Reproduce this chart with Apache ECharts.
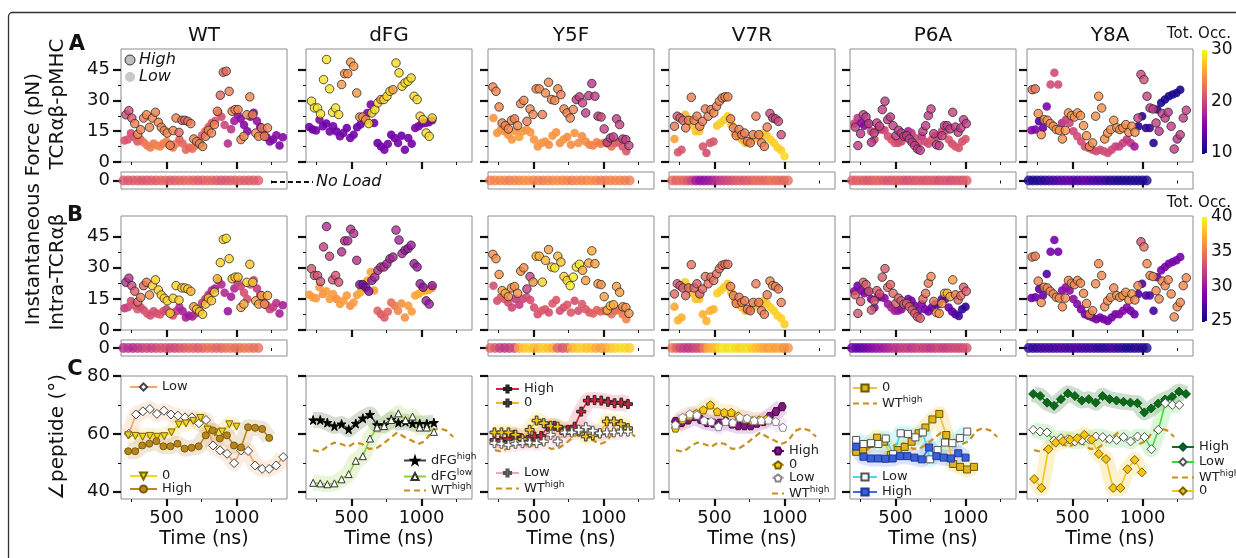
<!DOCTYPE html>
<html>
<head>
    <meta charset="utf-8" />
    <title>Force and angle panels</title>
    <script src="https://cdn.jsdelivr.net/npm/echarts@6/dist/echarts.min.js"></script>
    <style>
        html, body { margin: 0; padding: 0; background: #fff; }
        #main { width: 1236px; height: 558px; }
    </style>
</head>
<body>
    <div id="main"></div>
    <script>
        // ---------- data : instantaneous force (pN), rows A and B share positions ----------
        var panelNames = ['WT', 'dFG', 'Y5F', 'V7R', 'P6A', 'Y8A'];

        // WT
        var wtHiT = [210, 1221];
        var wtHi = [23,25,21.4,18.7,13.5,15.7,21.4,23,16.9,21.4, 24.2,19.3,16.9,15.3,14.1,8.1,15.3,21.4,14.4,20.3, 20.3,19.8,18.7,11.2,10,8.9,7.6,12.5,15.4,14.1, 18.2,24.7,32.5,43.7,44.2,34.4,24.7,25.5,25.5,10.9, 12.5,23,31.7,23,14.1,12.5,16.6,12.5,16.6];
        var wtHiA = [20,20.5,21,23.5,24,23.8,23.5,24,23.8,24, 23.5,24,23.8,24,24,23.5,24,23.8,22,22, 22,22.5,23.5,24,24,23.8,24,23.5,24,23.8, 24,23.8,22,22.5,22.5,23.5,24,23.8,24,24, 23.8,24,24,23.8,24,24,23.5,24,23.8];
        var wtHiB = [31,31,32.5,33.5,34,35,34,35,36,38.5, 38.5,38.5,38.5,38.5,38.5,38.5,38.5,38.5,38.5,38.5, 38.5,38.5,37.5,36,38,38,38.5,38.5,38,38, 38.5,38.5,38.5,39,39,38.5,38,38,38,37, 37,38.5,38,38.5,36.5,36.5,37,36,37];
        var wtLoT = [200, 1330];
        var wtLo = [10.5,11,14,12,10,11,9.5,8,7,9, 8,7.5,9,10,8.5,7,9,11,9,6, 7,6.5,8,10,13,15,17,19,20,24, 22,18,9,16,20,23,21,18,15,22, 24,20,17,14,12,10,11,13,8,12];
        var wtLoA = [21,21,20.5,21,21.5,22,23,23.5,23.5,23.5, 24,24,23.5,24,24,23.5,23.5,22,22,22.5, 22,22.5,23,22,21.5,22,22,21,21,21, 20.5,20,18.5,19,17,16.5,16,15.5,15.5,16, 16,16.5,15.5,16,16,15.5,15,15.5,15,15.5];
        var wtLoB = [32,32.5,33,33,33.5,33,33,33.5,33,33, 33,33.5,33,32.5,33,33,32,31,30.5,30.5, 30,30.5,31,31.5,32,32,31.5,31,30.5,30.5, 31,31,30,30.5,31,32,32.5,33,33,33, 32.5,32,32,32.5,33,32.5,32,31.5,30.5,30.5];

        // dFG
        var dfgHiT = [214, 1076];
        var dfgHi = [29.6,26.3,26.3,23.4,40.1,49.9,35.6,24.2,26.3,23.1, 37.7,43,43,48.6,46.6,33.6,21.9,21.9,20.6,18.7, 23.9,25.5,28.8,30.4,30.4,32,34.4,35.2,48.2,43.4, 36.9,38.5,39.3,40.9,32,30.4,22.3,20.6,14.1,12.5, 21.4];
        var dfgHiA = [29,29,29,29,29,29,29,29,29,28.5, 25,24.5,24.5,25,25,25,24.5,24.5,24.5,28.5, 28.5,28.5,28.5,25,28.5,28.5,28.5,25,28.5,28.5, 28.5,28.5,28.5,28.5,28.5,28.5,28,28,28.5,28.5, 28.5];
        var dfgHiB = [33,33,33,33,32,31,32,33,33,33, 31,31,31,31.5,31,31,29,28.5,28.5,29, 30,30.5,31,31,31,30.5,30.5,30.5,31,30.5, 30.5,30,30,30,30,30,30,29.5,30,30, 29.5];
        var dfgLoT = [198, 1076];
        var dfgLo = [17,15.8,15.3,20.6,17.4,18.7,14.9,17.4,14.9,12.5, 14.1,16.6,11.7,13.3,16.9,18.2,20.6,23.9,28,19, 9.3,7.6,6,8.8,13.3,11.7,9.3,12.8,6,11.7, 8.9,16.6,17.4,18.7,19,19.3,20.3];
        var dfgLoA = [14.5,14,14.5,15,14.5,14,14.5,14.5,14,14.5, 14.5,14,14.5,14.5,14,14.5,15,15,15,14.5, 14,14,14.5,14.5,14,14.5,14.5,14,14.5,14.5, 14.5,15,15,14.5,15,15,15];
        var dfgLoB = [36.5,36.5,36.5,36.5,36,36.5,36.5,36.5,36,36.5, 36.5,36.5,36,36.5,36.5,37,37,37,37,36.5, 34,33.5,33.5,34,34.5,35,35.5,36,36,36.5, 36.5,37,37,37.5,37.5,37,37];

        // Y5F
        var y5fHiT = [210, 1181];
        var y5fHi = [36.5,34.4,26.8,19,17.7,16.1,20.3,21,17.7,28.4, 30,19.8,25.8,23.1,35.6,35.6,23.1,33.6,38.8,30.4, 30,35.6,32.8,25.8,23.9,21.4,25.5,30.4,31.7,28.8, 23.9,32.3,38.2,32,22.3,21.9,16.1,9.6,11.7,12.2, 21,18.2,11.2,10.9,8];
        var y5fHiA = [24,24,24,23.5,24,24,24,23.5,24,24, 24,23.5,24,24,24,24,23.5,24,24,24, 24,24,23.5,24,24,24,24,19,19,19.5, 19,19,18.5,19,19,20,19.5,19,19,19, 19,19.5,19,19,19.5];
        var y5fHiB = [36,36,36,36.5,37,36,36,36,36,36, 36,32,32,36,37.5,37.5,38.5,37.5,36.5,38.5, 39.5,37.5,38,38.5,38.5,39.5,39.5,39,39.5,37, 36.5,37,37,36.5,36.5,36,36.5,37.5,38,37, 36.5,36.5,36,36,36];
        var y5fLoT = [214, 1162];
        var y5fLo = [21.4,14.1,15.8,15,13.3,10.9,15,12.2,15,15.8, 14.5,10.9,7.6,9.3,10,8.4,12.8,14.5,9.3,10.9, 12.2,8.4,14.1,9.3,12.5,10,8.4,8,9.6,8.9, 9.3,8.9,7.6,9.3,9.6,7.6,5.2];
        var y5fLoA = [25,25,25,25,25,25,25,25.5,25,25, 25,25,25,25,25,24.5,25,25,24.5,25, 24.5,24.5,25,24.5,24.5,24.5,24,24,24,23.5, 23.5,23,23,22,21.5,21,21];
        var y5fLoB = [33,33,33.5,33.5,33,32.5,32,32,32.5,33, 33,33,33,33.5,33.5,33,33.5,33.5,33,33, 33.5,33.5,33,33,33.5,33.5,33.5,34,34,34, 34,34,34.5,34.5,34.5,35,35.5];

        // V7R
        var v7rHiT = [214, 976];
        var v7rHi = [17.4,22.3,21.4,20.3,16.6,20.3,31.5,20.3,22.3,17.4, 19.8,25.8,22.3,25.5,23.9,27.1,29.6,31.2,31.7,31.7, 21,16.6,12.8,15.8,13.3,14.1,10,9.3,13.3,22.3, 13.3,9.3,7.6,17,23.6,21.4,21,19.8,13.3];
        var v7rHiA = [23,21,21.5,22,23.5,23.5,23.5,23.5,23.5,23.5, 23.5,23.5,23.5,23.5,24,23.5,24,24,24,24, 23.5,23.5,23.5,23.5,23.5,23.5,23.5,23.5,23.5,23.5, 23.5,23.5,23.5,23.5,20,19.5,19.5,20,20];
        var v7rHiB = [34,33.5,33,33.5,34,34,34.5,34,33.5,33.5, 34,34.5,34.5,34.5,34.5,34.5,34.5,34.5,34.5,34.5, 35,35,35,35,35,35,34.5,34.5,35,35, 35,35,35,35,35.5,35.5,35.5,35,35];
        var v7rLoT = [214, 1000];
        var v7rLo = [11.2,4.7,6,23,20.6,18,15,15,7.6,4.4, 9.3,10,17.7,19,20.6,22.3,18.2,14,12.5,11, 9.3,10,11,12,12.5,14,12.8,11,9.3,7, 5.7,2.8];
        var v7rLoA = [25.5,21,21,27,27.5,27.5,27.5,27.5,21,20.5, 21,21,27.5,28,28,28,27.5,27,27,26.5, 26.5,27,27.5,27.5,27.5,27.5,27.5,28,28,28, 28,28.5];
        var v7rLoB = [37,37.5,37.5,38.5,38.5,38,38,38,37.5,37.5, 37.5,37.5,38.5,38.5,38.5,38,38,38,37.5,37.5, 37.5,37.5,38,38,38,38,38,38.5,38.5,38.5, 38.5,38.5];

        // P6A
        var p6aHiT = [212, 1005];
        var p6aHi = [17,8,13.8,23,21.9,18.7,9.6,14.1,19,17.4, 25.5,29.6,20.6,21.9,17.7,12.8,15.4,14.1,12.5,12.8, 11.2,9.6,8,6.3,5.7,14.9,17.7,22.6,25.8,13.8, 8.4,8,12.8,17.7,17.7,16.1,24.2,17,14.5,16.6, 20.6,18.7];
        var p6aHiA = [19,19,18.5,19,19,19,18.5,19,19,19.5, 19,19,19,19,19,18.5,19,19,19,19, 19,18.5,19,19,19,19,19,19,19.5,19, 19,19,19,19,19,19,19.5,19,19,19, 19,19];
        var p6aHiB = [33.5,33,33.5,33.5,33.5,33,33.5,33.5,33.5,33, 33.5,33.5,34,34,34,33.5,33.5,33.5,33.5,33.5, 33.5,33.5,33.5,33.5,33.5,34,34.5,35,35.5,35, 36,36,36.5,37,37.5,37,36.5,35,34,34, 33.5,33.5];
        var p6aLoT = [205, 1000];
        var p6aLo = [18.7,21.4,19,17.7,18.7,15,10.9,15.8,15.8,15.4, 12.5,10.9,9.3,9.3,10,12.5,15,14.1,11.7,9.3, 12.5,10,8.9,10.9,12.5,12.5,15,15,10.9,8.9, 7.6,6.8,10,11.2];
        var p6aLoA = [20,19,16,15.5,17,20,20.5,20,19.5,20, 20.5,21,21,20.5,20,18,17,19,20,21, 19,20,20.5,21,20.5,20,20,21,21,20.5, 21,21,20.5,21];
        var p6aLoB = [29,28.5,29,29,28.5,29,29.5,29,29,29.5, 30,30.5,30.5,30,29.5,29,28.5,28.5,28.5,29, 29,28.5,28.5,28,28,28,27.5,27.5,28,27.5, 27,26.5,26,26];

        // Y8A
        var y8aHiT = [212, 1312];
        var y8aHi = [35.2,35.6,23.6,13.3,20.6,20.3,18.7,17.4,15.8,15.4, 11.2,15.4,23.9,22.6,21.9,23.9,22.6,17.7,12.8,7.6, 9.3,22.3,32,26.3,11.2,14.1,15.8,20.3,16.6,15.8, 16.6,18.2,14.5,17.4,14.5,21.4,42.6,40.1,32,26.3, 25.8,19,15,23.6,21.4,24.2,17.4,6.3,11.2,13.3, 21.4,25.2];
        var y8aHiA = [23,23,24.5,24.5,24.5,24.5,24.5,24.5,24.5,24.5, 24.5,24.5,24.5,24.5,24.5,24.5,24.5,24.5,24.5,24.5, 24.5,24.5,24.5,24.5,24.5,24.5,24.5,24.5,24.5,24.5, 24.5,24.5,24.5,24.5,24.5,19.5,19.5,20.5,19.5,19, 19,19,18.5,19,19,18.5,19,19,18.5,19, 19,19];
        var y8aHiB = [35,35,35.5,35.5,35.5,35.5,35.5,35.5,35.5,35.5, 35.5,35.5,35.5,35.5,35.5,35.5,35.5,35.5,35.5,35.5, 35.5,35.5,35.5,35.5,35.5,35.5,35.5,35.5,36,36, 36,36,36,36,35.5,35.5,33,34.5,35.5,35.5, 35.5,35.5,35.5,35.5,35.5,35.5,35.5,35.5,35.5,35.5, 35.5,35.5];
        var y8aLoT = [207, 1269];
        var y8aLo = [15.4,15.8,19.8,16.6,27,37.7,43.4,37.7,19,20.6, 19,15,12.5,10,7.6,6.8,6,5.2,6,5.2, 4.4,6,7.6,7.6,9.3,10.9,9.3,7.6,17.4,22.3, 16.6,16.6,9.3,25.5,28.8,30.4,32,32.8,33.6,35.2];
        var y8aLoA = [15.5,15,12.5,14,15,20.5,20.5,20.5,18,19.5, 20,20,20.5,20.5,20.5,20.5,20.5,20.5,20.5,20.5, 20.5,20,20,19.5,19.5,19,19,17,11,11, 11,11.5,11,11,10.5,10.5,10.5,10.5,10.5,10.5];
        var y8aLoB = [28,28,27.5,28,27,28.5,28.5,28.5,29,29.5, 29.5,29.5,29,28.5,28.5,28.5,28.5,28.5,28.5,28.5, 28.5,28.5,28.5,29,29,29,28.5,28,27,27, 27,27,26.5,28,28.5,28.5,28.5,28.5,28.5,28.5];

        // "No Load" strips: occupancy along the run (A scale 10-30, B scale 25-40)
        var wtStripT = [193, 1155];
        var wtStripA = [21,21,21.5,21.5,21,21,21.5,21.5,22,22, 21.5,21.5,22,22,22.5,22,21.5,21.5,22,22, 21.5,21,21,21.5,21.5,22,21.5,21.5,21.5,21.5];
        var wtStripB = [31,31.5,31,31.5,32,32.5,32,32.5,33,33, 32.5,32.5,33,33.5,34,34,33.5,34,34.5,34.5, 34,34,34.5,35,34.5,34.5,35,35,34.5,34.5];
        var y5fStripT = [191, 1186];
        var y5fStripA = [23.5,24,24,24,23.5,24,24,24.5,24.5,24, 24,23.5,24,24,24.5,24,24,23.5,24,24, 24,24.5,24,23.5,23.5,24,24,24,23.5,23.5];
        var y5fStripB = [34,33.5,32,31.5,32,32.5,37,38,38.5,38, 37.5,38.5,38,37.5,34,33,34,37.5,38,38.5, 38,38,37,36.5,37,38,38.5,39,39,38.5];
        var v7rStripT = [198, 1024];
        var v7rStripA = [22.5,22,22.5,22,21,19.5,17,16,16,16.5, 17,18,19,19.5,20,20.5,21,21.5,21,21.5, 22,22.5,22.5,22,22.5,23,22.5,22.5,22,22.5];
        var v7rStripB = [35,34,32.5,32,31.5,32,32.5,33,35,37, 37.5,38,39,39.5,39,39.5,39,38.5,39,39, 38.5,38,37.5,37,36.5,37,36.5,37,36,36];
        var p6aStripT = [190, 1008];
        var p6aStripA = [21.5,21.5,22,21.5,21,21.5,22,22,21.5,21, 21,21.5,21.5,21,20.5,21,21,21.5,21,21, 21.5,21,20.5,21,21,20.5,21,21,21,21.5];
        var p6aStripB = [28,28,27.5,28,28.5,29,29.5,30,30,30.5, 31,31.5,31.5,32,32,31.5,32,32.5,32,32, 31.5,32,32.5,32,32,32.5,32.5,32.5,32.5,33];
        var y8aStripT = [188, 1029];
        var y8aStripA = [10.5,10.5,10.5,11,11,11.5,12,12.5,13,13, 13.5,13,12.5,13,13.5,13,12.5,12,12,11.5, 11,11,10.5,10.5,10.5,10.5,11,10.5,10.5,10.5];
        var y8aStripB = [26,26,26,26.5,26.5,26.5,26.5,27,27,26.5, 26.5,27,27,26.5,26.5,26.5,26.5,26,26,26, 26.5,26.5,26,26,25.5,25.5,25.5,26,25.5,25.5];

        // ---------- data : peptide angle (deg), row C ----------
        var wtLowCT = [231, 1333];
        var wtLowC = [60,66.7,67.8,68.6,66.9,68,66.7,66.3,65.7,65.7, 63.7,64.8,56,54.3,53.1,49.9,54.3,54.1,49.1,47.9, 47.9,49.1,52];
        var wtZeroCT = [226, 1000];
        var wtZeroC = [59.5,59.3,59,59.3,59,59.2,60.5,63.2,63.6,64.5, 65.5,61.5,60.5,60.8,63.3,62.5];
        var wtHighCT = [226, 1233];
        var wtHighC = [54,54,56,56.6,57.5,55.7,55.7,56.6,54.9,55.2, 55.7,59.5,61.2,58.4,59.5,56,55.3,62.3,62.1,61.7, 58.6];
        var wtRefT = [225, 1225];
        var wtRef = [54.4,53.8,55.5,57,56.5,55.5,57,56.5,54.8,55, 56.5,58.5,60.4,59,57.8,56.5,57.5,61,62,61.2, 59];

        var dfgHighCT = [226, 1088];
        var dfgHighC = [64.8,64.8,63.9,62.7,63.4,61.6,63.6,65.4,66.7,63.1, 63.1,65,63.9,64.2,63.6,63.6,63.6,63.9];
        var dfgLowCT = [226, 1088];
        var dfgLowC = [43.1,42.9,42.6,42.9,44.3,46.1,50.7,52.3,58.4,62.2, 62.7,64.8,67.1,64.8,66,62.2,62.2,60.7];

        var y5fHighCT = [221, 1174];
        var y5fHighC = [57.9,57.7,58.2,59.7,58.5,57.9,59.1,59.3,62.5,62.8, 61.4,61.4,62.5,67.7,71.5,71.7,71.5,71.1,70.6,70.8, 70.3];
        var y5fZeroCT = [221, 1174];
        var y5fZeroC = [60.5,60.5,60.5,59.7,58.2,61.4,64.6,63.7,62.8,62.5, 61.1,60.8,60.8,59.1,59.5,60.2,64.3,64.3,63.4,62];
        var y5fLowCT = [221, 1174];
        var y5fLowC = [56.8,56.6,56.2,56.6,56.8,57,56.8,57.4,59.7,57.4, 60.5,60.5,61.4,62.3,61.1,60.2,60.5,60.5,60.8,60.8];

        var v7rHighCT = [221, 983];
        var v7rHighC = [64.3,63.9,64.8,66,65,63.9,63.7,63.7,64.3,63.4, 62.8,62.8,62.8,63.7,64.3,66,67.7,69.4];
        var v7rZeroCT = [221, 869];
        var v7rZeroC = [62,65,66.2,67.1,68.3,70,67.7,67.4,67.4,66.2, 65.1,64.6,64.8,65.1];
        var v7rLowCT = [221, 988];
        var v7rLowC = [63.1,65.7,66.9,66.5,64.6,64.3,62.5,64.3,63.9,65.7, 65.4,64.6,64.6,64.8,64.3,62.3];

        var p6aZeroCT = [219, 1060];
        var p6aZeroC = [53.8,54.6,56.5,58.7,57.3,52.7,54.4,55.5,57.3,60.2, 62.2,65,66.9,59.6,49.6,48.6,47.7,48.6];
        var p6aLowCT = [219, 1012];
        var p6aLowC = [57.9,56.5,56.8,56.5,58.4,53,60.2,60,58.8,60.5, 51.2,54.4,57,56.8,58.6,60.8];
        var p6aHighCT = [219, 1000];
        var p6aHighC = [55.6,52.1,51.5,51.5,51.4,51.5,52.3,52.3,51.8,51.2, 55.3,52.3,51.8,51.5,53.3,51.8];

        var y8aHighCT = [219, 1310];
        var y8aHighC = [73.8,73.1,70.8,69.7,72,74,73.1,71.5,72,70.8, 73.1,72,71.5,71.1,70.8,70.6,67.4,68.8,70.5,71.9, 72.8,74.6,73.8];
        var y8aLowCT = [219, 1262];
        var y8aLowC = [61.4,60.8,60.5,57.7,58.5,58.2,57.4,57.7,58.2,59.1, 58.9,58.2,57.9,58.9,57.4,59.1,58.9,54.7,61.4,70.6, 70,70];
        var y8aZeroCT = [226, 995];
        var y8aZeroC = [44.4,41.3,54.7,57,57.5,58,58.5,59.7,58,53.1, 51.3,41.3,41.3,47.8,51,46.7];

        // axis ticks
        var timeMajor = [500, 1000];
        var timeMinor = [250, 750, 1250];
        var forceMajor = [0, 15, 30, 45];
        var forceMinor = [7.5, 22.5, 37.5];
        var angleMajor = [40, 60, 80];
        var angleMinor = [50, 70];
        var occATicks = [10, 20, 30];
        var occBTicks = [25, 30, 35, 40];

        // ---------- layout ----------
        var FF = "'DejaVu Sans', sans-serif";
        var PLASMA = ['#0d0887', '#41049d', '#6a00a8', '#8f0da4', '#b12a90', '#cc4778',
            '#e16462', '#f2844b', '#fca636', '#fcce25', '#f0f921'];
        var colLeft = [121, 306, 488, 669, 850, 1027];
        var panelW = 166;
        var rowTop = [49, 172, 216, 340, 376];
        var rowH = [113, 17, 114, 16, 123];
        var yCfg = [
            { min: 0, max: 55, major: forceMajor, minor: forceMinor },
            { min: -1, max: 1, major: [0], minor: [] },
            { min: 0, max: 55, major: forceMajor, minor: forceMinor },
            { min: -1, max: 1, major: [0], minor: [] },
            { min: 37.5, max: 80, major: angleMajor, minor: angleMinor }
        ];
        function plain( v ) { return String( v ); }

        // spread a sampled series evenly over its time span
        function spread( range, ys, cs )
        {
            var n = ys.length, out = [];
            for ( var i = 0; i < n; i++ )
            {
                var t = range[0] + ( range[1] - range[0] ) * i / ( n - 1 );
                var p = [t, ys[i]];
                if ( cs ) p.push( cs[Math.min( i, cs.length - 1 )] );
                out.push( p );
            }
            return out;
        }
        function zeros( arr ) { return arr.map( function () { return 0; } ); }

        var grids = [], xAxes = [], yAxes = [];
        for ( var r = 0; r < 5; r++ )
        {
            for ( var c = 0; c < 6; c++ )
            {
                var g = r * 6 + c;
                var hidden = ( c === 1 && ( r === 1 || r === 3 ) );
                grids.push( {
                    left: colLeft[c], top: rowTop[r], width: panelW, height: rowH[r],
                    show: !hidden, borderColor: '#8c8c8c', borderWidth: 1
                } );
                var lab = r === 4;
                xAxes.push( {
                    gridIndex: g, type: 'value', min: 175, max: 1360, position: 'bottom', show: !hidden,
                    axisLine: { show: false }, splitLine: { show: false },
                    axisTick: { show: true, customValues: timeMajor, length: 7, lineStyle: { color: '#111', width: 2.2 } },
                    axisLabel: { show: lab, customValues: timeMajor, formatter: plain, color: '#111', fontSize: 18, fontFamily: FF, margin: 10 },
                    name: lab ? 'Time (ns)' : '', nameLocation: 'middle', nameGap: 31,
                    nameTextStyle: { fontSize: 19, color: '#111', fontFamily: FF }
                } );
                xAxes.push( {
                    gridIndex: g, type: 'value', min: 175, max: 1360, position: 'bottom', show: !hidden,
                    axisLine: { show: false }, splitLine: { show: false }, axisLabel: { show: false },
                    axisTick: { show: true, customValues: timeMinor, length: 3, lineStyle: { color: '#111', width: 1 } }
                } );
                var yc = yCfg[r];
                yAxes.push( {
                    gridIndex: g, type: 'value', min: yc.min, max: yc.max, position: 'left', show: !hidden,
                    axisLine: { show: false }, splitLine: { show: false },
                    axisTick: { show: true, customValues: yc.major, length: 8, lineStyle: { color: '#111', width: 2.2 } },
                    axisLabel: { show: c === 0, customValues: yc.major, formatter: plain, color: '#111', fontSize: 18, fontFamily: FF, margin: 11 }
                } );
                yAxes.push( {
                    gridIndex: g, type: 'value', min: yc.min, max: yc.max, position: 'left',
                    show: !hidden && yc.minor.length > 0,
                    axisLine: { show: false }, splitLine: { show: false }, axisLabel: { show: false },
                    axisTick: { show: true, customValues: yc.minor, length: 3, lineStyle: { color: '#111', width: 1 } }
                } );
            }
        }
        // colour bars (grids 30 and 31)
        var cbars = [
            { top: 50, h: 103, min: 10, max: 30, ticks: occATicks },
            { top: 217, h: 104, min: 25, max: 40, ticks: occBTicks }
        ];
        cbars.forEach( function ( cb, k )
        {
            grids.push( { left: 1202, top: cb.top, width: 5, height: cb.h, show: false } );
            xAxes.push( { gridIndex: 30 + k, type: 'value', show: false } );
            xAxes.push( { gridIndex: 30 + k, type: 'value', show: false } );
            yAxes.push( {
                gridIndex: 30 + k, type: 'value', min: cb.min, max: cb.max, position: 'right',
                axisLine: { show: false }, splitLine: { show: false },
                axisTick: { show: true, customValues: cb.ticks, length: 3, lineStyle: { color: '#111', width: 1 } },
                axisLabel: { customValues: cb.ticks, color: '#111', fontSize: 17, fontFamily: FF, margin: 4 }
            } );
            yAxes.push( { gridIndex: 30 + k, type: 'value', show: false } );
        } );

        // ---------- series ----------
        var series = [], idxA = [], idxB = [];
        var scatterCols = [
            { hi: wtHi, hiT: wtHiT, hiA: wtHiA, hiB: wtHiB, lo: wtLo, loT: wtLoT, loA: wtLoA, loB: wtLoB },
            { hi: dfgHi, hiT: dfgHiT, hiA: dfgHiA, hiB: dfgHiB, lo: dfgLo, loT: dfgLoT, loA: dfgLoA, loB: dfgLoB },
            { hi: y5fHi, hiT: y5fHiT, hiA: y5fHiA, hiB: y5fHiB, lo: y5fLo, loT: y5fLoT, loA: y5fLoA, loB: y5fLoB },
            { hi: v7rHi, hiT: v7rHiT, hiA: v7rHiA, hiB: v7rHiB, lo: v7rLo, loT: v7rLoT, loA: v7rLoA, loB: v7rLoB },
            { hi: p6aHi, hiT: p6aHiT, hiA: p6aHiA, hiB: p6aHiB, lo: p6aLo, loT: p6aLoT, loA: p6aLoA, loB: p6aLoB },
            { hi: y8aHi, hiT: y8aHiT, hiA: y8aHiA, hiB: y8aHiB, lo: y8aLo, loT: y8aLoT, loA: y8aLoA, loB: y8aLoB }
        ];
        scatterCols.forEach( function ( d, c )
        {
            [0, 2].forEach( function ( r )
            {
                var g = r * 6 + c, useA = r === 0;
                var list = useA ? idxA : idxB;
                list.push( series.length );
                series.push( {
                    type: 'scatter', xAxisIndex: 2 * g, yAxisIndex: 2 * g, z: 2,
                    symbolSize: 8.5, itemStyle: { opacity: 0.9 },
                    data: spread( d.loT, d.lo, useA ? d.loA : d.loB )
                } );
                list.push( series.length );
                series.push( {
                    type: 'scatter', xAxisIndex: 2 * g, yAxisIndex: 2 * g, z: 3,
                    symbolSize: 8.5, itemStyle: { borderColor: '#2a2a2a', borderWidth: 1 },
                    data: spread( d.hiT, d.hi, useA ? d.hiA : d.hiB )
                } );
            } );
        } );
        var stripCols = [
            { c: 0, t: wtStripT, a: wtStripA, b: wtStripB },
            { c: 2, t: y5fStripT, a: y5fStripA, b: y5fStripB },
            { c: 3, t: v7rStripT, a: v7rStripA, b: v7rStripB },
            { c: 4, t: p6aStripT, a: p6aStripA, b: p6aStripB },
            { c: 5, t: y8aStripT, a: y8aStripA, b: y8aStripB }
        ];
        stripCols.forEach( function ( s )
        {
            [[1, s.a, idxA], [3, s.b, idxB]].forEach( function ( q )
            {
                var g = q[0] * 6 + s.c;
                q[2].push( series.length );
                series.push( {
                    type: 'scatter', xAxisIndex: 2 * g, yAxisIndex: 2 * g, symbolSize: 10,
                    data: spread( s.t, zeros( q[1] ), q[1] )
                } );
            } );
        } );

        var PLUS = 'path://M3.5,0H6.5V3.5H10V6.5H6.5V10H3.5V6.5H0V3.5H3.5Z';
        var STAR = 'path://M50,0L61,35L98,35L68,57L79,91L50,70L21,91L32,57L2,35L39,35Z';
        var PENT = 'path://M50,0L98,35L79,91L21,91L2,35Z';
        var HEX = 'path://M25,0L75,0L100,50L75,100L25,100L0,50Z';

        // row C series: [column, legend key, values, span, line colour, band colour, symbol, size, fill, edge, rotate]
        var angleSeries = [
            [0, 'Low', wtLowC, wtLowCT, '#f6a56b', '#f8b888', 'diamond', 9, '#ffffff', '#444', 0],
            [0, '0', wtZeroC, wtZeroCT, '#f7d417', '#f1d060', 'triangle', 7, '#f3d21c', '#7a6400', 180],
            [0, 'High', wtHighC, wtHighCT, '#b8861b', '#c0a060', 'circle', 7, '#b8861b', '#7a5a10', 0],
            [1, 'dFG^high', dfgHighC, dfgHighCT, '#33472a', '#5c7a4c', STAR, 9, '#000000', '#000', 0],
            [1, 'dFG^low', dfgLowC, dfgLowCT, '#8ccf3a', '#a6d860', 'triangle', 7, '#ffffff', '#333', 0],
            [2, 'High', y5fHighC, y5fHighCT, '#d81f3c', '#ec6a80', PLUS, 9, '#d81f3c', '#222', 0],
            [2, '0', y5fZeroC, y5fZeroCT, '#f0b820', '#f7d440', PLUS, 9, '#f5c518', '#333', 0],
            [2, 'Low', y5fLowC, y5fLowCT, '#f5a3b5', '#f5b0c0', PLUS, 9, '#ffffff', '#555', 0],
            [3, 'High', v7rHighC, v7rHighCT, '#800080', '#a860b8', HEX, 8, '#7b1a7b', '#4a004a', 0],
            [3, '0', v7rZeroC, v7rZeroCT, '#f0a800', '#f5c840', PENT, 8, '#f5c518', '#7a6000', 0],
            [3, 'Low', v7rLowC, v7rLowCT, '#e9a9e9', '#e0b0e8', PENT, 8, '#ffffff', '#888', 0],
            [4, '0', p6aZeroC, p6aZeroCT, '#f0c040', '#f0c840', 'rect', 7, '#e3b31c', '#6a5a00', 0],
            [4, 'Low', p6aLowC, p6aLowCT, '#3de0e8', '#60e0f0', 'rect', 7, '#ffffff', '#555', 0],
            [4, 'High', p6aHighC, p6aHighCT, '#4169e1', '#7c94ea', 'rect', 7, '#3a60d8', '#1c3a9a', 0],
            [5, 'High', y8aHighC, y8aHighCT, '#1a6b1a', '#3f7f3f', 'diamond', 9, '#0d6b0d', '#053', 0],
            [5, 'Low', y8aLowC, y8aLowCT, '#35e035', '#70e070', 'diamond', 9, '#ffffff', '#555', 0],
            [5, '0', y8aZeroC, y8aZeroCT, '#f5c518', '#f5d040', 'diamond', 9, '#f5c518', '#806000', 0]
        ];
        var rowC = 4;
        // noisy-trace bands first
        angleSeries.forEach( function ( s )
        {
            var g = rowC * 6 + s[0];
            series.push( {
                type: 'line', xAxisIndex: 2 * g, yAxisIndex: 2 * g, z: 1, silent: true,
                showSymbol: false, symbol: 'none',
                lineStyle: { color: s[5], width: 16, opacity: 0.26, join: 'round' },
                data: spread( s[3], s[2] )
            } );
        } );
        // WT high reference, dashed
        for ( var c = 1; c < 6; c++ )
        {
            var g = rowC * 6 + c;
            series.push( {
                name: 'c' + c + ':WT^high', type: 'line', xAxisIndex: 2 * g, yAxisIndex: 2 * g, z: 2,
                symbol: 'none', itemStyle: { color: '#c8901e' },
                lineStyle: { color: '#c8901e', width: 2.2, type: [6, 4] },
                data: spread( wtRefT, wtRef )
            } );
        }
        angleSeries.forEach( function ( s )
        {
            var g = rowC * 6 + s[0];
            series.push( {
                name: 'c' + s[0] + ':' + s[1], type: 'line', xAxisIndex: 2 * g, yAxisIndex: 2 * g, z: 3,
                symbol: s[6], symbolSize: s[7], symbolRotate: s[10], showAllSymbol: true,
                itemStyle: { color: s[8], borderColor: s[9], borderWidth: 1 },
                lineStyle: { color: s[4], width: 1.6 },
                data: spread( s[3], s[2] )
            } );
        } );

        // ---------- legends of row C ----------
        var legendItems = [
            ['c0:Low', 129, 387, 27], ['c0:0', 129, 476, 27], ['c0:High', 129, 489, 27],
            ['c1:dFG^high', 403, 459, 22], ['c1:dFG^low', 403, 475, 22], ['c1:WT^high', 403, 489, 22],
            ['c2:High', 495, 389, 23], ['c2:0', 495, 403, 23], ['c2:Low', 495, 473, 23], ['c2:WT^high', 495, 487, 23],
            ['c3:High', 771, 451, 12], ['c3:0', 771, 465, 12], ['c3:Low', 771, 478, 12], ['c3:WT^high', 771, 492, 12],
            ['c4:0', 852, 388, 24], ['c4:WT^high', 852, 402, 24], ['c4:Low', 852, 477, 24], ['c4:High', 852, 492, 24],
            ['c5:High', 1171, 447, 22], ['c5:Low', 1171, 462, 22], ['c5:WT^high', 1171, 476, 22], ['c5:0', 1171, 491, 22]
        ];
        var legends = legendItems.map( function ( it )
        {
            var isRef = it[0].indexOf( 'WT^high' ) >= 0;
            return {
                data: [it[0]], left: it[1], top: it[2] - 7, padding: 0, orient: 'vertical',
                itemWidth: it[3], itemHeight: 9, itemGap: 0, selectedMode: false,
                itemStyle: isRef ? { opacity: 0 } : {},
                textStyle: {
                    fontSize: 13, color: '#222', fontFamily: FF, lineHeight: 14,
                    rich: { s: { fontSize: 9, fontFamily: FF, color: '#222', padding: [0, 0, 8, 0] } }
                },
                formatter: function ( name )
                {
                    var parts = name.split( ':' )[1].split( '^' );
                    return parts.length > 1 ? parts[0] + '{s|' + parts[1] + '}' : parts[0];
                }
            };
        } );

        // ---------- annotations ----------
        function txt( text, x, y, font, opts )
        {
            var o = {
                type: 'text', x: x, y: y, z: 20,
                style: { text: text, font: font, fill: '#111', textAlign: 'center', textVerticalAlign: 'middle' }
            };
            if ( opts ) for ( var k in opts ) o[k] = opts[k];
            return o;
        }
        function ltxt( text, x, y, font )
        {
            return { type: 'text', x: x, y: y, z: 20, style: { text: text, font: font, fill: '#111', textAlign: 'left', textVerticalAlign: 'middle' } };
        }
        function gradient()
        {
            return new echarts.graphic.LinearGradient( 0, 0, 0, 1, PLASMA.slice().reverse().map( function ( col, i )
            {
                return { offset: i / ( PLASMA.length - 1 ), color: col };
            } ) );
        }
        var graphics = [
            { type: 'rect', z: 0, shape: { x: 8.5, y: 12.5, width: 1260, height: 580, r: 4 }, style: { fill: 'none', stroke: '#333', lineWidth: 1.3 } },
            txt( 'A', 77, 45, 'bold 21px ' + FF ),
            txt( 'B', 75, 216, 'bold 21px ' + FF ),
            txt( 'C', 75, 370, 'bold 21px ' + FF ),
            txt( 'Instantaneous Force (pN)', 34, 199, '20px ' + FF, { rotation: Math.PI / 2 } ),
            txt( 'TCRαβ-pMHC', 58, 104, '20px ' + FF, { rotation: Math.PI / 2 } ),
            txt( 'Intra-TCRαβ', 58, 272, '20px ' + FF, { rotation: Math.PI / 2 } ),
            txt( '∠peptide (°)', 58, 437, '20px ' + FF, { rotation: Math.PI / 2 } ),
            // legend of force panels
            { type: 'circle', z: 20, shape: { cx: 130, cy: 60, r: 5 }, style: { fill: '#bdbdbd', stroke: '#333', lineWidth: 1 } },
            { type: 'circle', z: 20, shape: { cx: 130, cy: 77, r: 5 }, style: { fill: '#c8c8c8' } },
            ltxt( 'High', 139, 60, 'italic 16px ' + FF ),
            ltxt( 'Low', 139, 77, 'italic 16px ' + FF ),
            // no load note
            { type: 'line', z: 20, shape: { x1: 272, y1: 182, x2: 313, y2: 182 }, style: { stroke: '#111', lineWidth: 2, lineDash: [5, 3] } },
            ltxt( 'No Load', 316, 182, 'italic 16px ' + FF ),
            // colour bars
            { type: 'rect', z: 10, shape: { x: 1202, y: 50, width: 5, height: 103 }, style: { fill: gradient() } },
            { type: 'rect', z: 10, shape: { x: 1202, y: 217, width: 5, height: 104 }, style: { fill: gradient() } },
            txt( 'Tot. Occ.', 1199, 34, '15px ' + FF ),
            txt( 'Tot. Occ.', 1199, 203, '15px ' + FF )
        ];
        panelNames.forEach( function ( n, c )
        {
            graphics.push( txt( n, colLeft[c] + panelW / 2, 36, '20px ' + FF ) );
        } );

        var myChart = echarts.init( document.getElementById( 'main' ) );
        myChart.setOption( {
            animation: false,
            backgroundColor: '#fff',
            textStyle: { fontFamily: FF },
            grid: grids,
            xAxis: xAxes,
            yAxis: yAxes,
            legend: legends,
            visualMap: [
                { type: 'continuous', show: false, min: 10, max: 30, dimension: 2, seriesIndex: idxA, inRange: { color: PLASMA } },
                { type: 'continuous', show: false, min: 25, max: 40, dimension: 2, seriesIndex: idxB, inRange: { color: PLASMA } }
            ],
            graphic: graphics,
            series: series
        } );
    </script>
</body>
</html>
